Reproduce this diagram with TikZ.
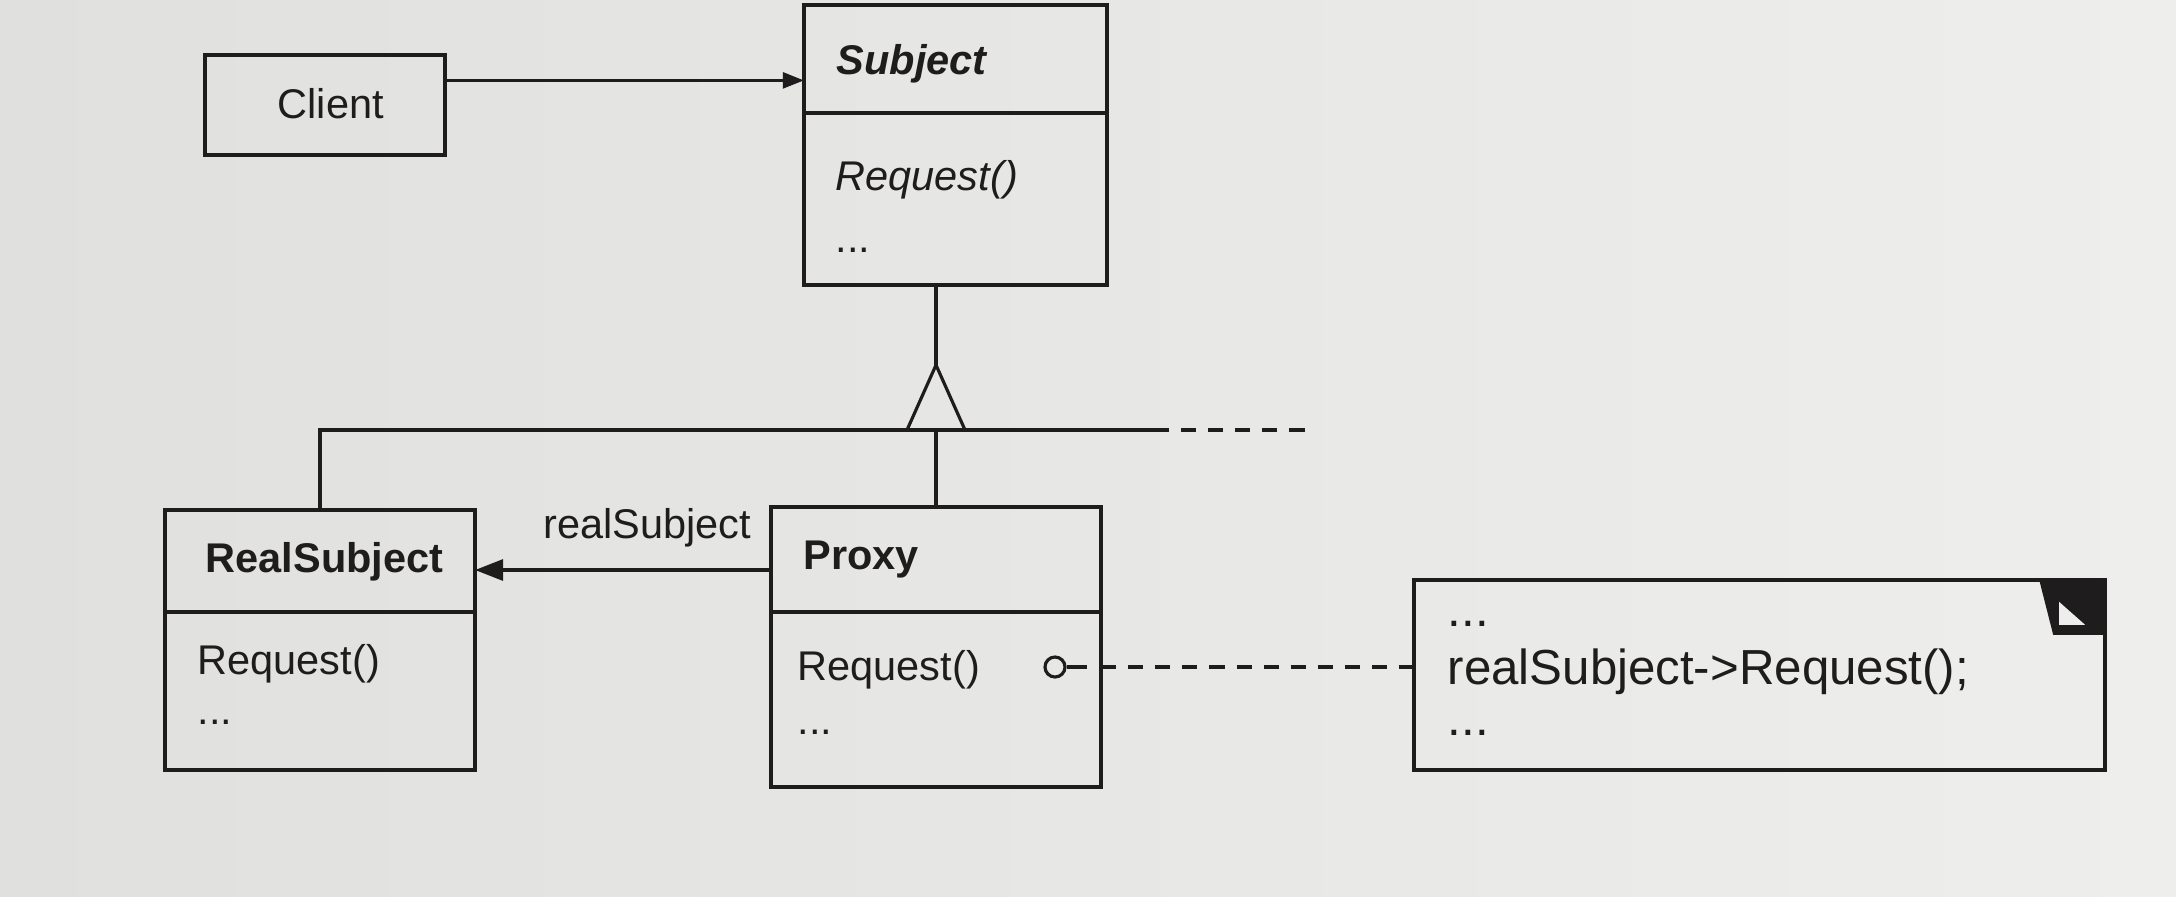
\documentclass[tikz,border=0pt]{standalone}
\usepackage{fontspec}
\setmainfont{Liberation Sans}
\usetikzlibrary{arrows.meta,calc}
\definecolor{bgL}{RGB}{224,224,222}
\definecolor{bgR}{RGB}{238,238,236}
\definecolor{ink}{RGB}{30,28,28}
\newcommand\umlfont{\fontsize{11.8pt}{14pt}\selectfont}
\newcommand\notefont{\fontsize{14pt}{17pt}\selectfont}
\tikzset{
  classbox/.style={draw=ink, line width=1.2pt, inner sep=0pt, outer sep=0pt, rectangle},
  divider/.style={draw=ink, line width=1.2pt},
  conn/.style={draw=ink, line width=0.9pt},
  dashline/.style={draw=ink, line width=0.9pt, dash pattern=on 4.3pt off 3.4pt},
  txt/.style={anchor=west, inner sep=0pt, text=ink, font=\umlfont},
  notetxt/.style={anchor=west, inner sep=0pt, text=ink, font=\notefont},
  bigtip/.style={-{Triangle[length=8pt,width=6pt]}},
  smalltip/.style={-{Triangle[length=6pt,width=4.5pt]}}
}
\begin{document}
\begin{tikzpicture}[x=0.01cm, y=-0.01cm]
\useasboundingbox (0,0) rectangle (2176,896);
\shade[left color=bgL, right color=bgR] (0,0) rectangle (2176,896);

% Client
\node[classbox, minimum width=2.40cm, minimum height=1.00cm] (client) at (325,105) {};
\node[txt] (clientname) at (277,104) {Client};

% Subject
\node[classbox, minimum width=3.03cm, minimum height=2.80cm] (subject) at (955.5,145) {};
\draw[divider] (subject.west |- 0,113) -- (subject.east |- 0,113);
\node[txt] (subjname) at (836,64) {\bfseries\itshape Subject};
\node[txt] (subjreq) at (835,180) {\itshape Request()};
\node[txt] (subjdots) at (835,250) {...};

% RealSubject
\node[classbox, minimum width=3.10cm, minimum height=2.60cm] (realsub) at (320,640) {};
\draw[divider] (realsub.west |- 0,612) -- (realsub.east |- 0,612);
\node[txt] (rsname) at (205,562) {\bfseries RealSubject};
\node[txt] (rsreq) at (197,664) {Request()};
\node[txt] (rsdots) at (197,722) {...};

% Proxy
\node[classbox, minimum width=3.30cm, minimum height=2.80cm] (proxy) at (936,647) {};
\draw[divider] (proxy.west |- 0,612) -- (proxy.east |- 0,612);
\node[txt] (pxname) at (803,560) {\bfseries Proxy};
\node[txt] (pxreq) at (797,670) {Request()};
\node[txt] (pxdots) at (797,732) {...};

% Note
\node[classbox, minimum width=6.91cm, minimum height=1.90cm] (note) at (1759.5,675) {};
\node[notetxt] (nd1) at (1447,624) {...};
\node[notetxt] (ncode) at (1447,672) {realSubject->Request();};
\node[notetxt] (nd2) at (1447,733) {...};
\fill[ink] ($(note.north east)+(-66,0)$) -- (note.north east) -- ($(note.north east)+(0,55)$) -- ($(note.north east)+(-52,55)$) -- cycle;
\fill[bgR] ($(note.north east)+(-46,22)$) -- ($(note.north east)+(-46,45)$) -- ($(note.north east)+(-20,45)$) -- cycle;

% Client -> Subject
\coordinate (ca) at ([yshift=7pt]client.east);
\draw[conn, smalltip] (ca) -- (ca -| subject.west);

% Inheritance
\coordinate (junc) at (936,430);
\coordinate (hl) at (1154,430);
\coordinate (hd) at (1312,430);
\draw[conn] (realsub.north) |- (hl);
\draw[dashline] (hl) -- (hd);
\draw[conn] (proxy.north) -- (junc);
\draw[conn] ($(junc)+(-29,0)$) -- ($(junc)+(0,-65)$) -- ($(junc)+(29,0)$);
\draw[conn] (subject.south -| junc) -- ($(junc)+(0,-65)$);

% realSubject association
\coordinate (ra) at (proxy.west |- 0,570);
\draw[conn, bigtip] (ra) -- (ra -| realsub.east);
\node[txt, anchor=center] (ralabel) at (647,528) {realSubject};

% Proxy Request -> note
\node[circle, draw=ink, line width=0.9pt, minimum size=0.2cm, inner sep=0pt] (pin) at (1055,667) {};
\coordinate (pinend) at (1087,667);
\draw[conn] (pin.east) -- (pinend);
\draw[dashline] (proxy.east |- pin) -- (note.west |- pin);
\end{tikzpicture}
\end{document}
